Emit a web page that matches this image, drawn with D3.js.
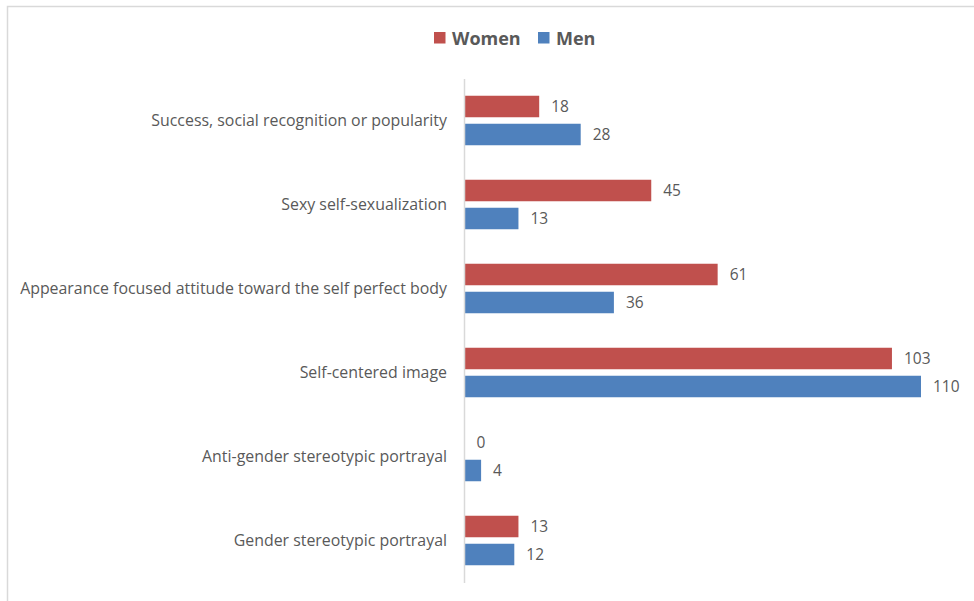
<!DOCTYPE html>
<html>
<head>
<meta charset="utf-8">
<script src="https://cdn.jsdelivr.net/npm/d3@7"></script>
<style>
  html, body { margin: 0; padding: 0; background: #ffffff; }
  svg { display: block; }
</style>
</head>
<body>
<svg id="chart" width="974" height="601"></svg>
<script>
const categories = [
  "Success, social recognition or popularity",
  "Sexy self-sexualization",
  "Appearance focused attitude toward the self perfect body",
  "Self-centered image",
  "Anti-gender stereotypic portrayal",
  "Gender stereotypic portrayal"
];
const seriesNames = ["Women", "Men"];
const women = [18, 45, 61, 103, 0, 13];
const men = [28, 13, 36, 110, 4, 12];
const colors = ["#C0504D", "#4F81BD"];

const svg = d3.select("#chart");
const font = "'Open Sans', 'Noto Sans', sans-serif";

// chart border (cropped at right and bottom)
svg.append("path")
  .attr("d", "M7.5,1000 L7.5,6.5 L1000,6.5")
  .attr("fill", "none")
  .attr("stroke", "#d9d9d9")
  .attr("stroke-width", 1.5);

const x = d3.scaleLinear().domain([0, 120]).range([464.5, 962.5]);
const y = d3.scaleBand().domain(categories).range([78.5, 582.5]).paddingInner(0).paddingOuter(0);
const ySub = d3.scaleBand().domain(seriesNames).range([0, y.bandwidth()]).paddingInner(0.232).paddingOuter(0.616);

const data = categories.map((c, i) => ({ cat: c, vals: [women[i], men[i]] }));

// bars
const groups = svg.selectAll("g.cat").data(data).enter().append("g")
  .attr("class", "cat")
  .attr("transform", d => `translate(0,${y(d.cat)})`);

groups.selectAll("rect").data(d => d.vals.map((v, j) => ({ v, s: seriesNames[j], j })))
  .enter().append("rect")
  .attr("x", x(0))
  .attr("y", d => ySub(d.s))
  .attr("width", d => x(d.v) - x(0))
  .attr("height", ySub.bandwidth())
  .attr("fill", d => colors[d.j]);

groups.selectAll("text.val").data(d => d.vals.map((v, j) => ({ v, s: seriesNames[j], j })))
  .enter().append("text")
  .attr("class", "val")
  .attr("x", d => x(d.v) + 12)
  .attr("y", d => ySub(d.s) + ySub.bandwidth() / 2)
  .attr("dy", "0.36em")
  .attr("font-family", font)
  .attr("font-size", 15.5)
  .attr("fill", "#595959")
  .text(d => d.v);

// category axis
const yAxis = d3.axisLeft(y).tickSize(0).tickPadding(17);
const gAxis = svg.append("g").attr("transform", `translate(${x(0) - 0.5},0)`).call(yAxis);
gAxis.select(".domain").attr("stroke", "#d9d9d9").attr("stroke-width", 1.5);
gAxis.selectAll("text")
  .attr("font-family", font)
  .attr("font-size", 15.9)
  .attr("fill", "#595959");

// legend
const legend = svg.append("g");
const legendItems = [
  { name: seriesNames[0], color: colors[0], x: 434 },
  { name: seriesNames[1], color: colors[1], x: 538 }
];
legendItems.forEach(it => {
  legend.append("rect").attr("x", it.x).attr("y", 32).attr("width", 11.5).attr("height", 11.5).attr("fill", it.color);
  legend.append("text").attr("x", it.x + 18).attr("y", 44.5)
    .attr("font-family", font).attr("font-size", 18).attr("font-weight", "bold")
    .attr("fill", "#595959").text(it.name);
});
</script>
</body>
</html>
